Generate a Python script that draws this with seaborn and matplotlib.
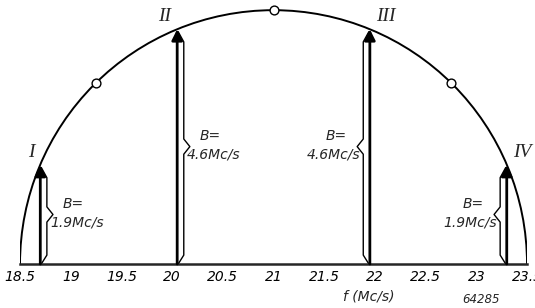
import matplotlib
matplotlib.use('Agg')
import matplotlib.pyplot as plt
import seaborn as sns
import pandas as pd
from matplotlib.patches import Arc

# channel data
channel_freq = [18.7, 20.05, 21.95, 23.3]
channel_height = [0.39, 0.925, 0.925, 0.39]
channel_name = ["I", "II", "III", "IV"]
bandwidth = ["1.9", "4.6", "4.6", "1.9"]
brace_side = [1, 1, -1, -1]

# small circles on the curve
mark_freq = [19.25, 21.0, 22.75]
mark_height = [0.714, 1.0, 0.714]

tick_pos = [18.5, 19, 19.5, 20, 20.5, 21, 21.5, 22, 22.5, 23, 23.5]
tick_lab = ["18.5", "19", "19.5", "20", "20.5", "21", "21.5", "22", "22.5", "23", "23.5"]

sns.set_style("white")
plt.rcParams['font.family'] = ['DejaVu Sans']

fig = plt.figure(figsize=(5.35, 3.08), dpi=100)
ax = fig.add_axes([0.0374, 0.1429, 0.9477, 0.857])
ax.set_xlim(18.5, 23.5)
ax.set_ylim(0, 1.04)
ax.patch.set_alpha(0)

# half ellipse response curve
ax.add_patch(Arc((21.0, 0), 5.0, 2.0, theta1=0, theta2=180, color="black", lw=1.4))

marks = pd.DataFrame({"f": mark_freq, "h": mark_height})
sns.scatterplot(data=marks, x="f", y="h", ax=ax, s=40, facecolor="white",
                edgecolor="black", linewidth=1.0, zorder=5)

off = 0.065
kink = 0.06
for f, h, name, bw, side in zip(channel_freq, channel_height, channel_name, bandwidth, brace_side):
    ax.annotate("", xy=(f, h), xytext=(f, 0),
                arrowprops=dict(arrowstyle="-|>", lw=2.0, color="black",
                                mutation_scale=16, shrinkA=0, shrinkB=0))
    # brace alongside the arrow
    xb = f + side * off
    mid = h / 2
    bx = [f + side * 0.01, xb, xb, xb + side * kink, xb, xb, f + side * 0.01]
    by = [h - 0.01, h - 0.05, mid + 0.03, mid, mid - 0.03, 0.035, 0.0]
    ax.plot(bx, by, color="black", lw=1.0)
    tx = xb + side * (kink - 0.03)
    ha = "left" if side > 0 else "right"
    ax.text(tx + side * 0.13, mid + 0.015, "B=", style="italic", fontsize=10,
            ha=ha, va="bottom")
    ax.text(tx, mid - 0.005, bw + "Mc/s", style="italic", fontsize=10,
            ha=ha, va="top")
    # roman numeral label
    if side > 0:
        ax.text(f - 0.06, h + 0.015, name, family="Liberation Serif", style="italic",
                fontsize=14, ha="right", va="bottom")
    else:
        ax.text(f + 0.06, h + 0.015, name, family="Liberation Serif", style="italic",
                fontsize=14, ha="left", va="bottom")

sns.despine(ax=ax, left=True, top=True, right=True)
ax.spines["bottom"].set_linewidth(1.8)
ax.set_yticks([])
ax.set_xticks(tick_pos)
ax.set_xticklabels(tick_lab, style="italic", fontsize=10)
ax.tick_params(axis="x", direction="in", length=6, width=1.0, pad=4, colors="black")
ax.set_xlabel("")
ax.set_ylabel("")

fig.text(0.69, 0.025, "f (Mc/s)", style="italic", fontsize=10, ha="center")
fig.text(0.9, 0.015, "64285", style="italic", fontsize=8.5, ha="center")

fig.savefig("out.png", dpi=100)
